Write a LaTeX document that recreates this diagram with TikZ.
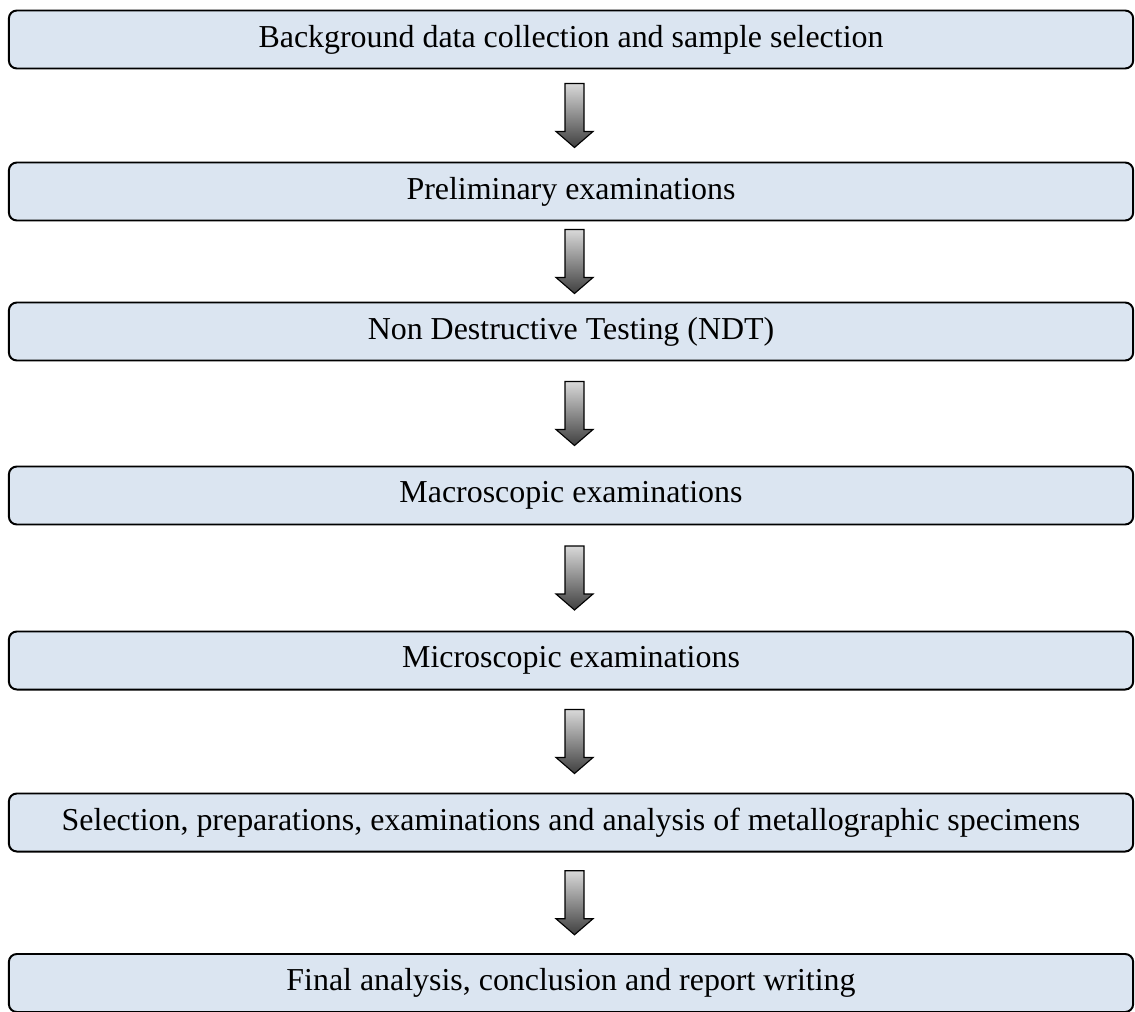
\documentclass[tikz,border=0pt]{standalone}
\usepackage{fontspec}
\setmainfont{Liberation Serif}
\definecolor{boxblue}{HTML}{DBE5F1}
\tikzset{
  stepbox/.style={draw=black, line width=1.4pt, rounded corners=0.2cm, fill=boxblue,
    minimum width=28.1cm, minimum height=1.45cm, inner sep=0pt,
    font=\fontsize{22.7}{26}\selectfont},
  flowarrow/.style={draw=black, line width=0.8pt, top color=black!15, bottom color=black!75}
}
\begin{document}
\begin{tikzpicture}[x=0.025cm, y=-0.025cm]
    \useasboundingbox (0,0) rectangle (1135,1011);

    % Etapas
    \node[stepbox] (b1) at (571, 39.5) {Background data collection and sample selection};
    \node[stepbox] (b2) at (571, 191.5) {Preliminary examinations};
    \node[stepbox] (b3) at (571, 331.5) {Non Destructive Testing (NDT)};
    \node[stepbox] (b4) at (571, 495.5) {Macroscopic examinations};
    \node[stepbox] (b5) at (571, 660.5) {Microscopic examinations};
    \node[stepbox] (b6) at (571, 822.5) {Selection, preparations, examinations and analysis of metallographic specimens};
    \node[stepbox] (b7) at (571, 983) {Final analysis, conclusion and report writing};

    % Flechas
    \foreach \a/\b in {b1/b2, b2/b3, b3/b4, b4/b5, b5/b6, b6/b7} {
        \path (\a.south) -- (\b.north) coordinate[midway] (\a-arr);
        \shade[flowarrow, shift={(\a-arr)}] (-6,-32) -- (13,-32) -- (13,16) -- (22,16)
            -- (3.5,32) -- (-15,16) -- (-6,16) -- cycle;
    }
\end{tikzpicture}
\end{document}
